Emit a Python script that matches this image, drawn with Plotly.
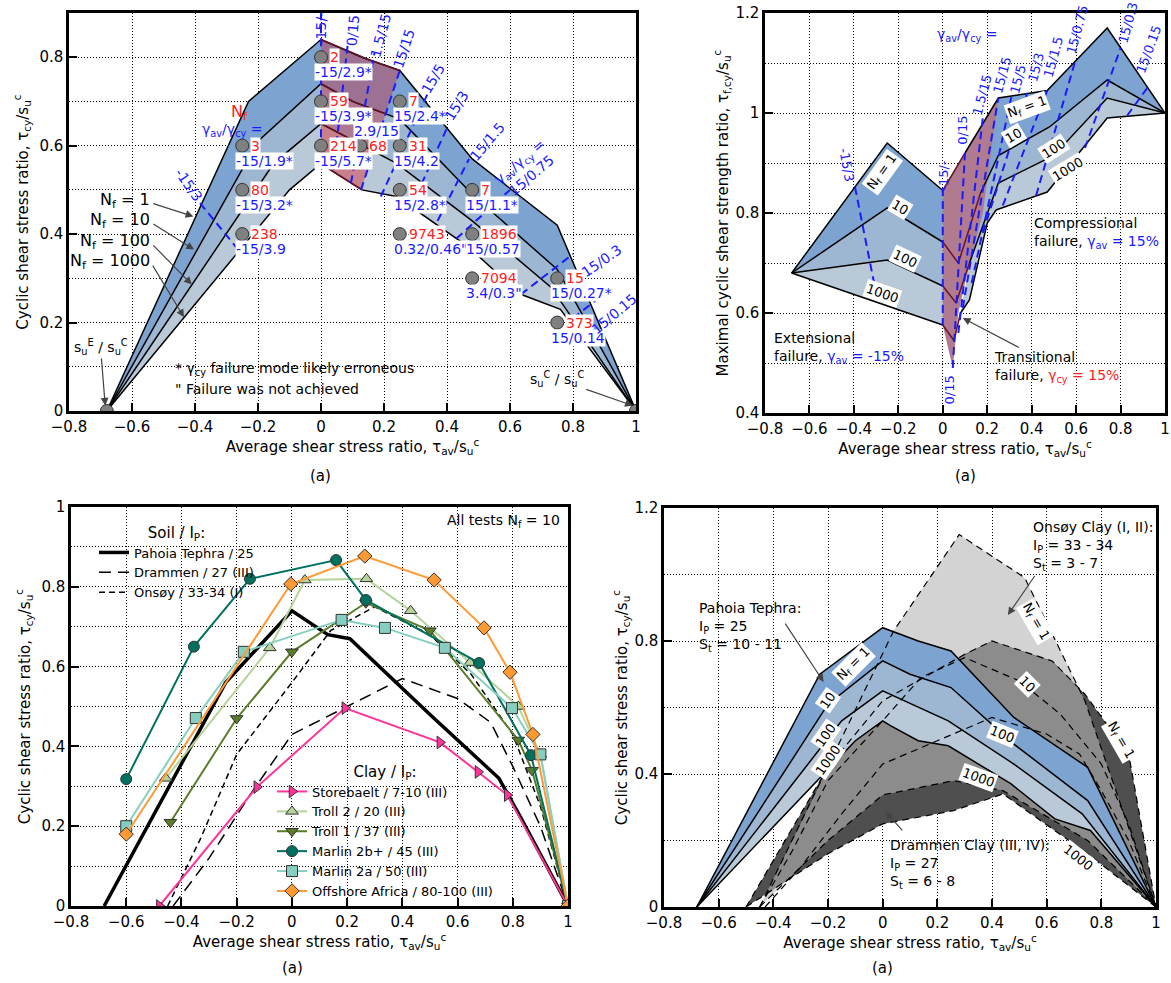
import numpy as np
import plotly.graph_objects as go

W, H = 1171, 983
FONT = "DejaVu Sans"
BLUE = "#1a1aff"
RED = "#ff2020"
C_B1, C_B2, C_B3 = "#7DA4D0", "#9DB6D2", "#BAC9D8"
C_P1, C_P2, C_P3 = "#9C7192", "#AE7890", "#C9808C"
DARKRED = "#6a1426"

# ---------------- Pahoia Tephra contours (tau_av/su, tau_cy/su) ----------------
pt_n1_x = [-0.68, -0.29, -0.23, 0.0, 0.13, 0.25, 0.48, 0.75, 1.0]
pt_n1_y = [0.0, 0.61, 0.70, 0.84, 0.80, 0.77, 0.57, 0.42, 0.0]
pt_n10_x = [-0.68, -0.2, 0.0, 0.1, 0.25, 0.48, 0.75, 1.0]
pt_n10_y = [0.0, 0.61, 0.74, 0.70, 0.66, 0.49, 0.32, 0.0]
pt_n100_x = [-0.68, -0.15, 0.0, 0.24, 0.48, 0.73, 1.0]
pt_n100_y = [0.0, 0.56, 0.65, 0.56, 0.43, 0.28, 0.0]
pt_n1000_x = [-0.68, -0.1, 0.0, 0.03, 0.13, 0.24, 0.47, 0.63, 0.76, 1.0]
pt_n1000_y = [0.0, 0.50, 0.56, 0.545, 0.50, 0.485, 0.37, 0.265, 0.23, 0.0]
# transitional zone right boundary (15/15)
tz_x = [0.127, 0.25]
tz_y = [0.50, 0.77]

# test points
t_x = [-0.25, -0.25, -0.25, 0.0, 0.0, 0.0, 0.125, 0.25, 0.25, 0.25, 0.48, 0.25, 0.48, 0.48, 0.75, 0.75]
t_y = [0.6, 0.5, 0.4, 0.8, 0.7, 0.6, 0.6, 0.7, 0.6, 0.5, 0.5, 0.4, 0.4, 0.3, 0.3, 0.2]
t_nf = ['3', '80', '238', '2', '59', '214', '68', '7', '31', '54', '7', '9743', '1896', '7094', '15', '373']
t_gam = ['-15/1.9*', '-15/3.2*', '-15/3.9', '-15/2.9*', '-15/3.9*', '-15/5.7*', '2.9/15', '15/2.4*',
         '15/4.2', '15/2.8*', '15/1.1*', '0.32/0.46"', '15/0.57', '3.4/0.3"', '15/0.27*', '15/0.14']
t_pos = ['b'] * 6 + ['a'] + ['b'] * 9
end_x = [-0.68, 1.0]
end_y = [0.0, 0.0]

# strain contours, panel (a) top-left
g1_x0 = [-0.384, 0.0, 0.04, 0.095, 0.127, 0.19, 0.285, 0.37, 0.43, 0.635, 0.80]
g1_y0 = [0.47, 0.56, 0.545, 0.515, 0.50, 0.485, 0.46, 0.43, 0.39, 0.264, 0.21]
g1_x1 = [-0.263, 0.0, 0.085, 0.17, 0.25, 0.34, 0.40, 0.47, 0.60, 0.80, 0.89]
g1_y1 = [0.365, 0.90, 0.83, 0.81, 0.77, 0.72, 0.64, 0.57, 0.50, 0.355, 0.26]
g1_lab = ['-15/3', '-15/-', '0/15', '1.5/15', '15/15', '15/5', '15/3', '15/1.5',
          'γ<sub>av</sub>/γ<sub>cy</sub> =<br>15/0.75', '15/0.3', '15/0.15']
g1_lx = [-0.42, 0.0, 0.1, 0.19, 0.265, 0.356, 0.43, 0.53, 0.65, 0.89, 0.93]
g1_ly = [0.51, 0.865, 0.86, 0.85, 0.82, 0.75, 0.69, 0.61, 0.55, 0.34, 0.22]
g1_la = [55, -90, -85, -75, -72, -60, -58, -50, -40, -35, -40]

# ---------------- panel (a) top-right: maximal cyclic shear strength ----------------
ex_n1_x, ex_n1_y = [-0.68, -0.25, 0.0], [0.68, 0.94, 0.845]
ex_n10_x, ex_n10_y = [-0.68, -0.25, 0.0], [0.68, 0.81, 0.742]
ex_n100_x, ex_n100_y = [-0.68, -0.25, 0.0], [0.68, 0.706, 0.654]
ex_n1000_x, ex_n1000_y = [-0.68, 0.0], [0.68, 0.576]
tr_n1_x, tr_n1_y = [0.0, 0.1], [0.845, 0.92]
tr_n10_x, tr_n10_y = [0.0, 0.07, 0.17], [0.742, 0.70, 0.84]
tr_n100_x, tr_n100_y = [0.0, 0.06, 0.12], [0.654, 0.62, 0.70]
tr_n1000_x, tr_n1000_y = [0.0, 0.05, 0.08], [0.576, 0.545, 0.60]
co_n1_x, co_n1_y = [0.1, 0.25, 0.47, 0.74, 1.0], [0.92, 1.03, 1.045, 1.17, 1.0]
co_n10_x, co_n10_y = [0.17, 0.25, 0.48, 0.74, 1.0], [0.84, 0.915, 0.972, 1.066, 1.0]
co_n100_x, co_n100_y = [0.12, 0.25, 0.5, 0.74, 1.0], [0.70, 0.86, 0.915, 1.03, 1.0]
co_n1000_x, co_n1000_y = [0.08, 0.12, 0.2, 0.24, 0.47, 0.74, 1.0], [0.60, 0.626, 0.78, 0.806, 0.842, 0.99, 1.0]
trz_x = [0.0, 0.1, 0.25, 0.18, 0.1, 0.07, 0.045, 0.0]
trz_y = [0.845, 0.92, 1.03, 0.80, 0.66, 0.60, 0.49, 0.576]

g2_x0 = [-0.395, 0.0, 0.045, 0.07, 0.09, 0.13, 0.18, 0.27, 0.42, 0.64, 0.83]
g2_y0 = [0.852, 0.85, 0.49, 0.56, 0.61, 0.66, 0.76, 0.815, 0.835, 0.93, 0.995]
g2_x1 = [-0.31, 0.0, 0.1, 0.18, 0.25, 0.31, 0.38, 0.47, 0.6, 0.8, 0.92]
g2_y1 = [0.662, 0.576, 0.92, 0.99, 1.03, 1.035, 1.04, 1.045, 1.11, 1.13, 1.05]
g2_lab = ['-15/3', '-15/-', '0/15', '0/15', '1.5/15', '15/15', '15/5', '15/3', '15/1.5', '15/0.75', '15/0.3', '15/0.15']
g2_lx = [-0.43, 0.0, 0.085, 0.03, 0.175, 0.265, 0.337, 0.418, 0.5, 0.607, 0.836, 0.93]
g2_ly = [0.896, 0.876, 0.966, 0.446, 1.036, 1.076, 1.068, 1.092, 1.112, 1.166, 1.18, 1.128]
g2_la = [80, -90, -90, -90, -75, -75, -75, -75, -75, -75, -75, -70]

# ---------------- panel (a) bottom-left: all tests Nf = 10 ----------------
pah_x = [-0.68, -0.24, 0.0, 0.13, 0.21, 0.5, 0.75, 0.83, 1.0]
pah_y = [0.0, 0.56, 0.74, 0.68, 0.67, 0.48, 0.32, 0.22, 0.0]
dra_x = [-0.43, -0.3, -0.15, 0.0, 0.2, 0.4, 0.6, 0.72, 0.8, 0.9, 1.0]
dra_y = [0.0, 0.12, 0.28, 0.43, 0.5, 0.57, 0.52, 0.46, 0.35, 0.2, 0.0]
ons_x = [-0.45, -0.33, -0.2, 0.0, 0.14, 0.3, 0.5, 0.65, 0.8, 0.9, 1.0]
ons_y = [0.0, 0.17, 0.38, 0.56, 0.69, 0.75, 0.68, 0.58, 0.43, 0.25, 0.0]
sto_x = [-0.48, -0.127, 0.192, 0.536, 0.674, 0.78, 1.0]
sto_y = [0.0, 0.298, 0.496, 0.41, 0.336, 0.278, 0.0]
tr2_x = [-0.457, -0.08, 0.047, 0.27, 0.43, 0.645, 0.82, 0.9, 1.0]
tr2_y = [0.32, 0.647, 0.817, 0.82, 0.74, 0.61, 0.50, 0.38, 0.0]
tr1_x = [-0.44, -0.2, 0.0, 0.268, 0.5, 0.82, 0.87, 1.0]
tr1_y = [0.21, 0.47, 0.637, 0.76, 0.69, 0.416, 0.34, 0.0]
m2b_x = [-0.6, -0.355, -0.152, 0.16, 0.268, 0.678, 0.866, 1.0]
m2b_y = [0.318, 0.65, 0.82, 0.867, 0.767, 0.609, 0.378, 0.0]
m2a_x = [-0.6, -0.348, -0.174, 0.18, 0.337, 0.554, 0.797, 0.9, 1.0]
m2a_y = [0.2, 0.471, 0.637, 0.717, 0.697, 0.647, 0.496, 0.38, 0.0]
off_x = [-0.6, -0.004, 0.264, 0.515, 0.696, 0.79, 0.873, 1.0]
off_y = [0.18, 0.807, 0.877, 0.817, 0.697, 0.586, 0.43, 0.0]

# ---------------- panel (a) bottom-right: Onsøy / Drammen contours ----------------
on1_x = [-0.45, 0.04, 0.28, 0.52, 0.74, 1.0]
on1_y = [0.0, 0.83, 1.12, 0.99, 0.62, 0.0]
on10_x = ons_x
on10_y = ons_y
on1000_x = [-0.45, -0.2, 0.0, 0.26, 0.44, 0.75, 1.0]
on1000_y = [0.0, 0.2, 0.337, 0.38, 0.35, 0.2, 0.0]
dr1_x = [-0.5, -0.35, -0.2, 0.0, 0.3, 0.4, 0.62, 0.74, 0.9, 1.0]
dr1_y = [0.0, 0.21, 0.42, 0.62, 0.76, 0.80, 0.74, 0.64, 0.46, 0.0]
dr1000_x = [-0.5, -0.2, 0.0, 0.26, 0.44, 0.75, 1.0]
dr1000_y = [0.0, 0.16, 0.25, 0.29, 0.34, 0.16, 0.0]

fig = go.Figure()


def sc(x, y, xa, ya, **kw):
    d = dict(x=list(x), y=list(y), xaxis=xa, yaxis=ya, hoverinfo='skip', showlegend=False)
    d.update(kw)
    fig.add_trace(go.Scatter(**d))


def band(xu, yu, xl, yl, color, xa, ya):
    sc(list(xu) + list(xl)[::-1], list(yu) + list(yl)[::-1], xa, ya, mode='lines',
       fill='toself', fillcolor=color, line=dict(width=0, color=color))


def clip_half(pts, a, b, c):
    out = []
    n = len(pts)
    for i in range(n):
        p, q = pts[i], pts[(i + 1) % n]
        fp = a * p[0] + b * p[1] + c
        fq = a * q[0] + b * q[1] + c
        if fp >= 0:
            out.append(p)
        if (fp >= 0) != (fq >= 0):
            t = fp / (fp - fq)
            out.append((p[0] + t * (q[0] - p[0]), p[1] + t * (q[1] - p[1])))
    return out


def line(xs, ys, xa, ya, color='black', width=1.5, dash=None):
    sc(xs, ys, xa, ya, mode='lines', line=dict(color=color, width=width, dash=dash))


ann = []


def A(x, y, text, xr, yr, size=14, color='black', **kw):
    d = dict(x=x, y=y, text=text, xref=xr, yref=yr, showarrow=False,
             font=dict(family=FONT, size=size, color=color))
    d.update(kw)
    ann.append(d)


def box(x, y, text, xr, yr, ang, size=13):
    A(x, y, text, xr, yr, size=size, textangle=ang, bgcolor='white', borderpad=1)


def arrow(x, y, ax, ay, xr, yr, text='', size=14, **kw):
    d = dict(x=x, y=y, ax=ax, ay=ay, axref=xr, ayref=yr, xref=xr, yref=yr, showarrow=True,
             arrowhead=2, arrowsize=1.3, arrowwidth=1.2, text=text,
             font=dict(family=FONT, size=size, color='black'))
    d.update(kw)
    ann.append(d)


GD = dict(color=BLUE, width=2, dash='8px,5px')

# ================= Panel 1 =================
P = [(pt_n1_x, pt_n1_y), (pt_n10_x, pt_n10_y), (pt_n100_x, pt_n100_y), (pt_n1000_x, pt_n1000_y)]
blues = [C_B1, C_B2, C_B3]
purps = [C_P1, C_P2, C_P3]
kk = (tz_x[1] - tz_x[0]) / (tz_y[1] - tz_y[0])
c0 = tz_x[0] - kk * tz_y[0]
for i in range(3):
    band(P[i][0], P[i][1], P[i + 1][0], P[i + 1][1], blues[i], 'x', 'y')
for i in range(3):
    pts = list(zip(list(P[i][0]) + list(P[i + 1][0])[::-1], list(P[i][1]) + list(P[i + 1][1])[::-1]))
    pts = clip_half(pts, 1.0, 0.0, 0.0)
    pts = clip_half(pts, -1.0, kk, c0)
    if pts:
        sc([p[0] for p in pts], [p[1] for p in pts], 'x', 'y', mode='lines', fill='toself',
           fillcolor=purps[i], line=dict(width=0, color=purps[i]))
for xs, ys in P:
    line(xs, ys, 'x', 'y')
    xd = np.linspace(xs[0], xs[-1], 900)
    yd = np.interp(xd, xs, ys)
    inside = (xd >= 0) & (xd <= kk * yd + c0)
    line(xd, np.where(inside, yd, np.nan), 'x', 'y', color=DARKRED, width=1.5)
for i in range(len(g1_x0)):
    line([g1_x0[i], g1_x1[i]], [g1_y0[i], g1_y1[i]], 'x', 'y', **GD)
sc(t_x + end_x, t_y + end_y, 'x', 'y', mode='markers',
   marker=dict(size=13, color='#808080', line=dict(color='#333333', width=1)))
for i in range(len(t_x)):
    A(t_x[i], t_y[i], t_nf[i], 'x', 'y', size=14, color=RED, xanchor='left', xshift=8,
      bgcolor='white', borderpad=0)
    ys = 15 if t_pos[i] == 'a' else -15
    A(t_x[i], t_y[i], t_gam[i], 'x', 'y', size=14, color=BLUE, xanchor='left', xshift=-7,
      yshift=ys, bgcolor='white', borderpad=0)
for i in range(len(g1_lab)):
    A(g1_lx[i], g1_ly[i], g1_lab[i], 'x', 'y', size=14, color=BLUE, textangle=g1_la[i])
A(-0.26, 0.675, 'N<sub>f</sub>', 'x', 'y', size=16, color=RED)
A(-0.28, 0.635, 'γ<sub>av</sub>/γ<sub>cy</sub> =', 'x', 'y', size=14, color=BLUE)
nf_txt = ['N<sub>f</sub> = 1', 'N<sub>f</sub> = 10', 'N<sub>f</sub> = 100', 'N<sub>f</sub> = 1000']
nf_ty = [0.475, 0.43, 0.383, 0.337]
nf_tip_x = [-0.405, -0.403, -0.41, -0.435]
nf_tip_y = [0.44, 0.365, 0.286, 0.212]
for i in range(4):
    arrow(nf_tip_x[i], nf_tip_y[i], -0.537, nf_ty[i] - 0.005, 'x', 'y')
    A(-0.537, nf_ty[i], nf_txt[i], 'x', 'y', size=16, xanchor='right')
arrow(-0.685, 0.012, -0.70, 0.145, 'x', 'y', text='s<sub>u</sub><sup>E</sup> / s<sub>u</sub><sup>C</sup>')
arrow(0.99, 0.012, 0.75, 0.072, 'x', 'y', text='s<sub>u</sub><sup>C</sup> / s<sub>u</sub><sup>C</sup>')
A(-0.47, 0.095, '* γ<sub>cy</sub> failure mode likely erroneous', 'x', 'y', size=14, xanchor='left')
A(-0.47, 0.05, '" Failure was not achieved', 'x', 'y', size=14, xanchor='left')

# ================= Panel 2 =================
E = [(ex_n1_x, ex_n1_y), (ex_n10_x, ex_n10_y), (ex_n100_x, ex_n100_y), (ex_n1000_x, ex_n1000_y)]
C = [(co_n1_x, co_n1_y), (co_n10_x, co_n10_y), (co_n100_x, co_n100_y), (co_n1000_x, co_n1000_y)]
T = [(tr_n1_x, tr_n1_y), (tr_n10_x, tr_n10_y), (tr_n100_x, tr_n100_y), (tr_n1000_x, tr_n1000_y)]
for i in range(3):
    band(E[i][0], E[i][1], E[i + 1][0], E[i + 1][1], blues[i], 'x2', 'y2')
    band(C[i][0], C[i][1], C[i + 1][0], C[i + 1][1], blues[i], 'x2', 'y2')
sc(trz_x, trz_y, 'x2', 'y2', mode='lines', fill='toself', fillcolor='#B07A91',
   line=dict(width=0, color='#B07A91'))
for xs, ys in E + C:
    line(xs, ys, 'x2', 'y2')
for xs, ys in T:
    line(xs, ys, 'x2', 'y2', color=DARKRED)
for i in range(len(g2_x0)):
    line([g2_x0[i], g2_x1[i]], [g2_y0[i], g2_y1[i]], 'x2', 'y2', **GD)
for i in range(len(g2_lab)):
    A(g2_lx[i], g2_ly[i], g2_lab[i], 'x2', 'y2', size=13, color=BLUE, textangle=g2_la[i])
A(0.11, 1.156, 'γ<sub>av</sub>/γ<sub>cy</sub> =', 'x2', 'y2', size=14, color=BLUE)
box(-0.274, 0.882, 'N<sub>f</sub> = 1', 'x2', 'y2', -54)
box(-0.19, 0.812, '10', 'x2', 'y2', 31)
box(-0.17, 0.71, '100', 'x2', 'y2', 25)
box(-0.27, 0.64, '1000', 'x2', 'y2', 19)
box(0.38, 1.012, 'N<sub>f</sub> = 1', 'x2', 'y2', -20)
box(0.32, 0.956, '10', 'x2', 'y2', -31)
box(0.5, 0.93, '100', 'x2', 'y2', -33)
box(0.56, 0.888, '1000', 'x2', 'y2', -31)
A(0.40, 0.76, 'Compressional<br>failure, <span style="color:%s">γ<sub>av</sub> = 15%%</span>' % BLUE,
  'x2', 'y2', size=14, xanchor='left', align='left')
A(-0.77, 0.53, 'Extensional<br>failure, <span style="color:%s">γ<sub>av</sub> = -15%%</span>' % BLUE,
  'x2', 'y2', size=14, xanchor='left', align='left')
arrow(0.09, 0.59, 0.51, 0.492, 'x2', 'y2', align='left', size=14,
      text='Transitional<br>failure, <span style="color:%s">γ<sub>cy</sub> = 15%%</span>' % RED)

# ================= Panel 3 =================
sc(pah_x, pah_y, 'x3', 'y3', mode='lines', line=dict(color='black', width=3.5),
   name='Pahoia Tephra / 25', showlegend=True, legend='legend')
sc(dra_x, dra_y, 'x3', 'y3', mode='lines', line=dict(color='black', width=1.5, dash='12px,7px'),
   name='Drammen / 27 (III)', showlegend=True, legend='legend')
sc(ons_x, ons_y, 'x3', 'y3', mode='lines', line=dict(color='black', width=1.5, dash='6px,4px'),
   name='Onsøy / 33-34 (I)', showlegend=True, legend='legend')
clay = [
    (sto_x, sto_y, '#FF3399', 'triangle-right', 'Storebaelt / 7-10 (III)'),
    (tr2_x, tr2_y, '#B5D39A', 'triangle-up', 'Troll 2 / 20 (III)'),
    (tr1_x, tr1_y, '#5B7D2A', 'triangle-down', 'Troll 1 / 37 (III)'),
    (m2b_x, m2b_y, '#00705F', 'circle', 'Marlin 2b+ / 45 (III)'),
    (m2a_x, m2a_y, '#86CFC0', 'square', 'Marlin 2a / 50 (III)'),
    (off_x, off_y, '#FF9933', 'diamond', 'Offshore Africa / 80-100 (III)'),
]
for xs, ys, col, sym, nm in clay:
    sc(xs, ys, 'x3', 'y3', mode='lines+markers', line=dict(color=col, width=2),
       marker=dict(symbol=sym, size=11, color=col, line=dict(color='#333333', width=1)),
       name=nm, showlegend=True, legend='legend2')
A(0.98, 0.965, 'All tests N<sub>f</sub> = 10', 'x3', 'y3', size=14, xanchor='right')

# ================= Panel 4 =================
band(on1_x, on1_y, on1000_x, on1000_y, '#D3D3D3', 'x4', 'y4')
band(dr1_x, dr1_y, dr1000_x, dr1000_y, '#4F4F4F', 'x4', 'y4')
xg = np.linspace(-0.5, 1.0, 1501)
top = np.minimum(np.interp(xg, on1_x, on1_y, left=0, right=0), np.interp(xg, dr1_x, dr1_y, left=0, right=0))
bot = np.maximum(np.interp(xg, on1000_x, on1000_y, left=0, right=0),
                 np.interp(xg, dr1000_x, dr1000_y, left=0, right=0))
ok = top > bot + 1e-9
idx = np.where(ok)[0]
if len(idx):
    runs = np.split(idx, np.where(np.diff(idx) > 1)[0] + 1)
    for r in runs:
        band(xg[r], top[r], xg[r], bot[r], '#8C8C8C', 'x4', 'y4')
for i in range(3):
    band(P[i][0], P[i][1], P[i + 1][0], P[i + 1][1], blues[i], 'x4', 'y4')
for xs, ys in P:
    line(xs, ys, 'x4', 'y4')
for xs, ys in [(on1_x, on1_y), (on10_x, on10_y), (on1000_x, on1000_y), (dr1_x, dr1_y),
               (dra_x, dra_y), (dr1000_x, dr1000_y)]:
    line(xs, ys, 'x4', 'y4', width=1.2, dash='7px,5px')
box(-0.106, 0.728, 'N<sub>f</sub> = 1', 'x4', 'y4', -45)
box(-0.2, 0.62, '10', 'x4', 'y4', -55)
box(-0.21, 0.517, '100', 'x4', 'y4', -55)
box(-0.2, 0.44, '1000', 'x4', 'y4', -55)
box(0.44, 0.52, '100', 'x4', 'y4', 22)
box(0.35, 0.39, '1000', 'x4', 'y4', 20)
box(0.53, 0.67, '10', 'x4', 'y4', 45)
box(0.56, 0.86, 'N<sub>f</sub> = 1', 'x4', 'y4', 60)
box(0.87, 0.5, 'N<sub>f</sub> = 1', 'x4', 'y4', 60)
box(0.715, 0.15, '1000', 'x4', 'y4', 38)
arrow(0.458, 0.878, 0.56, 1.0, 'x4', 'y4')
A(0.542, 1.173, 'Onsøy Clay (I, II):<br>I<sub>P</sub> = 33 - 34<br>S<sub>t</sub> = 3 - 7', 'x4', 'y4',
  size=14, xanchor='left', yanchor='top', align='left')
arrow(-0.216, 0.677, -0.36, 0.857, 'x4', 'y4')
A(-0.68, 0.93, 'Pahoia Tephra:<br>I<sub>P</sub> = 25<br>S<sub>t</sub> = 10 - 11', 'x4', 'y4',
  size=14, xanchor='left', yanchor='top', align='left')
arrow(0.011, 0.286, 0.077, 0.226, 'x4', 'y4')
A(0.018, 0.217, 'Drammen Clay (III, IV):<br>I<sub>P</sub> = 27<br>S<sub>t</sub> = 6 - 8', 'x4', 'y4',
  size=14, xanchor='left', yanchor='top', align='left')

# "(a)" captions
for px, py in [(320, 476), (965, 476), (292, 968), (882, 968)]:
    A(px / W, 1 - py / H, '(a)', 'paper', 'paper', size=15, xanchor='center', yanchor='middle')

# ================= axes =================
XT = 'Average shear stress ratio, τ<sub>av</sub>/s<sub>u</sub><sup>c</sup>'
YT = 'Cyclic shear stress ratio, τ<sub>cy</sub>/s<sub>u</sub><sup>c</sup>'


def axis(dom, anc, rng, dtick, title, minor=None, standoff=4):
    d = dict(domain=dom, anchor=anc, range=rng, dtick=dtick, showline=True, linecolor='black',
             linewidth=2.5, mirror=True, ticks='inside', ticklen=8, tickwidth=1.5, tickcolor='black',
             showgrid=True, gridcolor='black', griddash='1px,2px', gridwidth=1, zeroline=False,
             tickfont=dict(family=FONT, size=15, color='black'),
             title=dict(text=title, font=dict(family=FONT, size=15, color='black'), standoff=standoff))
    if minor:
        d['minor'] = dict(dtick=minor, showgrid=True, gridcolor='black', griddash='1px,2px', gridwidth=1)
    return d


layout = dict(
    width=W, height=H, margin=dict(l=0, r=0, t=0, b=0), template='none',
    paper_bgcolor='white', plot_bgcolor='white', font=dict(family=FONT, color='black'),
    xaxis=axis([69 / W, 636 / W], 'y', [-0.8, 1], 0.2, XT),
    yaxis=axis([1 - 411 / H, 1 - 13 / H], 'x', [0, 0.9], 0.2, YT, minor=0.1, standoff=8),
    xaxis2=axis([765 / W, 1165 / W], 'y2', [-0.8, 1], 0.2, XT),
    yaxis2=axis([1 - 413 / H, 1 - 13 / H], 'x2', [0.4, 1.2], 0.2,
                'Maximal cyclic shear strength ratio, τ<sub>f,cy</sub>/s<sub>u</sub><sup>c</sup>', minor=0.1),
    xaxis3=axis([71 / W, 568 / W], 'y3', [-0.8, 1], 0.2, XT),
    yaxis3=axis([1 - 906 / H, 1 - 507 / H], 'x3', [0, 1], 0.2, YT, minor=0.1, standoff=8),
    xaxis4=axis([664 / W, 1156 / W], 'y4', [-0.8, 1], 0.2, XT),
    yaxis4=axis([1 - 907 / H, 1 - 508 / H], 'x4', [0, 1.2], 0.4, YT, minor=0.2),
    legend=dict(x=94 / W, y=1 - 518 / H, xanchor='left', yanchor='top', bgcolor='rgba(0,0,0,0)',
                font=dict(family=FONT, size=13, color='black'), tracegroupgap=0,
                title=dict(text='Soil / I<sub>P</sub>:', side='top center', font=dict(family=FONT, size=15))),
    legend2=dict(x=272 / W, y=1 - 757 / H, xanchor='left', yanchor='top', bgcolor='rgba(0,0,0,0)',
                 font=dict(family=FONT, size=13, color='black'), tracegroupgap=0,
                 title=dict(text='Clay / I<sub>P</sub>:', side='top center', font=dict(family=FONT, size=15))),
    annotations=ann,
    showlegend=True,
)
fig.update_layout(**layout)
fig.write_html("out.html")
